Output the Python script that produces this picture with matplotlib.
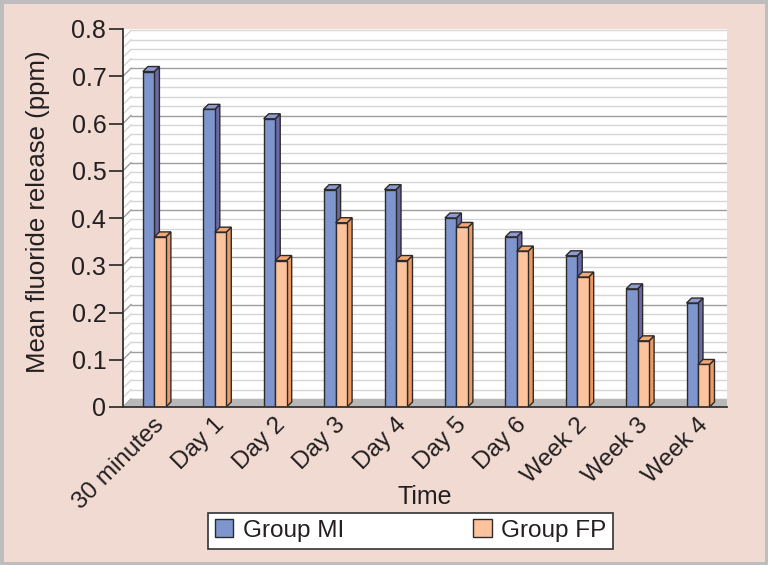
import numpy as np
import matplotlib
matplotlib.use('Agg')
import matplotlib.pyplot as plt
from matplotlib.patches import Polygon, Patch, Rectangle

plt.rcParams['font.family'] = ['Liberation Sans', 'DejaVu Sans']

categories = ['30 minutes', 'Day 1', 'Day 2', 'Day 3', 'Day 4', 'Day 5',
              'Day 6', 'Week 2', 'Week 3', 'Week 4']
group_mi = [0.71, 0.63, 0.61, 0.46, 0.46, 0.40, 0.36, 0.32, 0.25, 0.22]
group_fp = [0.36, 0.37, 0.31, 0.39, 0.31, 0.38, 0.33, 0.275, 0.14, 0.09]
yticks = [0, 0.1, 0.2, 0.3, 0.4, 0.5, 0.6, 0.7, 0.8]

mi_front, mi_side, mi_top = '#7f95cd', '#6b6aa6', '#8e9ad0'
fp_front, fp_side, fp_top = '#fcc39d', '#ee9a62', '#f4a772'
edge = '#2b2b2b'
bg = '#f0dad2'
txt = '#231f20'

fig = plt.figure(figsize=(7.68, 5.65), dpi=100, facecolor=bg)
fig.patches.append(Rectangle((0, 0), 1, 1, transform=fig.transFigure,
                             fill=False, edgecolor='#bdbdbd', lw=5))
ax = fig.add_axes([123 / 768, 1 - 407 / 565, 604 / 768, 378 / 565])
ax.set_facecolor('none')
ax.set_xlim(-0.5, len(categories) - 0.5)
ax.set_ylim(0, 0.8)

x = np.arange(len(categories))
w = 0.19
x_mi = x - w / 2 + 0.02
x_fp = x + w / 2 + 0.02

# pseudo 3d walls, computed in display pixels
D = 8      # wall depth
d = 5      # bar depth
fig.canvas.draw()
T = ax.transData.transform
xl, y0 = T((-0.5, 0))
xr, ytop = T((len(categories) - 0.5, 0.8))

ax.add_patch(Polygon([(xl, y0), (xl, ytop), (xl + D, ytop + D), (xr + D, ytop + D),
                      (xr + D, y0 + D), (xl + D, y0 + D)], closed=True,
                     transform=None, facecolor='white', edgecolor='none', zorder=0))
ax.plot([xr + D, xr + D], [y0 + D, ytop + D], transform=None, color='#c8c8c8', lw=1, zorder=0.5)
for v in np.arange(0, 0.801, 0.02):
    major = abs(v * 10 - round(v * 10)) < 1e-6
    c = '#9e9e9e' if major else '#d6d6d6'
    yy = T((0, v))[1]
    ax.plot([xl + D, xr + D], [yy + D, yy + D], transform=None, color=c, lw=1, zorder=0.5)
    ax.plot([xl, xl + D], [yy, yy + D], transform=None, color=c, lw=1, zorder=0.5)
ax.add_patch(Polygon([(xl, y0), (xr, y0), (xr + D, y0 + D), (xl + D, y0 + D)], closed=True,
                     transform=None, facecolor='#b8b8b8', edgecolor='none', zorder=0.8))


def bar3d(xs, vals, front, side, top, z):
    ax.bar(xs, vals, width=w, color=front, edgecolor=edge, lw=1, zorder=z + 0.5)
    for xc, v in zip(xs, vals):
        (a, b0), (c, b1) = T((xc - w / 2, 0)), T((xc + w / 2, v))
        ax.add_patch(Polygon([(c, b0), (c + d, b0 + d), (c + d, b1 + d), (c, b1)], closed=True,
                             transform=None, facecolor=side, edgecolor=edge, lw=1, zorder=z))
        ax.add_patch(Polygon([(a, b1), (a + d, b1 + d), (c + d, b1 + d), (c, b1)], closed=True,
                             transform=None, facecolor=top, edgecolor=edge, lw=1, zorder=z))


bar3d(x_mi, group_mi, mi_front, mi_side, mi_top, 2)
bar3d(x_fp, group_fp, fp_front, fp_side, fp_top, 4)

for s in ['top', 'right']:
    ax.spines[s].set_visible(False)
for s in ['left', 'bottom']:
    ax.spines[s].set_color('#333333')
    ax.spines[s].set_linewidth(1.3)
    ax.spines[s].set_zorder(6)

ax.set_yticks(yticks)
ax.set_yticklabels(['0' if t == 0 else f'{t:.1f}' for t in yticks])
ax.tick_params(axis='y', length=10, width=1.3, color='#333333', labelsize=18,
               labelcolor=txt, pad=2)
ax.set_xticks(x)
ax.set_xticklabels(categories, rotation=45, ha='right', va='top', rotation_mode='anchor')
ax.tick_params(axis='x', length=0, labelsize=17.5, labelcolor=txt, pad=5)

ax.set_ylabel('Mean fluoride release (ppm)', fontsize=18.5, color=txt)
ax.yaxis.set_label_coords(-0.121, 0.518)
ax.set_xlabel('Time', fontsize=18, color=txt)
ax.xaxis.set_label_coords(0.5, -0.207)

handles = [Patch(facecolor=mi_front, edgecolor=edge, label='Group MI'),
           Patch(facecolor=fp_front, edgecolor=edge, label='Group FP')]
leg = fig.legend(handles=handles, loc='center', bbox_to_anchor=(0.535, 0.061), ncol=2,
                 fontsize=17.5, frameon=True, fancybox=False, edgecolor='#333333',
                 framealpha=1, handlelength=0.75, handleheight=0.75, columnspacing=5.3,
                 borderpad=0.28, handletextpad=0.4, borderaxespad=0)
leg.get_frame().set_linewidth(1.2)
for t in leg.get_texts():
    t.set_color(txt)

fig.savefig('out.png', dpi=100, facecolor=bg)
